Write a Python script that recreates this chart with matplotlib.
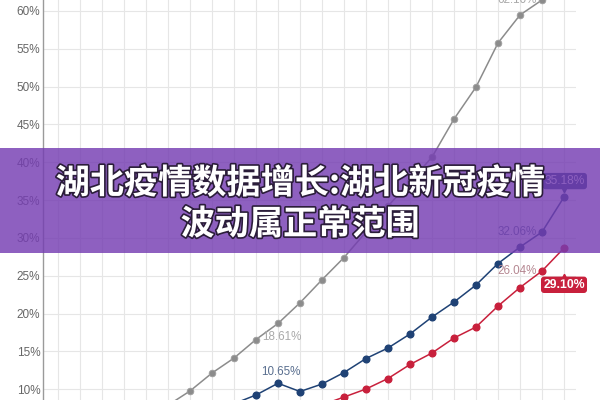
import matplotlib
matplotlib.use("Agg")
import matplotlib.pyplot as plt
import matplotlib.patheffects as pe
from matplotlib.patches import Rectangle
from matplotlib.transforms import offset_copy
from matplotlib.ticker import FuncFormatter

# ---- data ----
n_categories = 24
gray_start = 5
gray_values = [7.9, 9.78, 12.15, 14.13, 16.58, 18.7, 21.43, 24.47, 27.41, 30.78,
               34.21, 37.38, 40.68, 45.70, 49.93, 55.75, 59.45, 61.43]
blue_start = 8
blue_values = [8.1, 9.25, 10.8, 9.71, 10.70, 12.22, 14.07, 15.46, 17.31, 19.55,
               21.53, 23.78, 26.62, 28.80, 30.78, 35.40]
red_start = 12
red_values = [7.94, 8.98, 10.04, 11.43, 13.28, 14.80, 16.78, 18.23, 21.0, 23.45,
              25.63, 28.67]
y_ticks = [10, 15, 20, 25, 30, 35, 40, 45, 50, 55, 60]

title_line1 = "湖北疫情数据增长:湖北新冠疫情"
title_line2 = "波动属正常范围"

gray_x = list(range(gray_start, gray_start + len(gray_values)))
blue_x = list(range(blue_start, blue_start + len(blue_values)))
red_x = list(range(red_start, red_start + len(red_values)))

GRAY = "#8c8c8c"
BLUE = "#1f4275"
RED = "#c8203c"

fig = plt.figure(figsize=(6, 4), dpi=100)
fig.patch.set_facecolor("white")
ax = fig.add_axes([43 / 600, 0, (576 - 43) / 600, 1])
ax.set_facecolor("white")

ax.set_xlim(-15 / 22, (576 - 58) / 22)
ax.set_ylim(8.59, 61.43)

ax.set_xticks(range(n_categories))
ax.set_yticks(y_ticks)
ax.grid(True, color="#e6e6e6", linewidth=0.8, zorder=0)
ax.set_axisbelow(True)
ax.tick_params(axis="x", length=0, labelbottom=False)
ax.tick_params(axis="y", length=0, pad=2, labelsize=8.5, labelcolor="#666666")
ax.yaxis.set_major_formatter(FuncFormatter(lambda v, p: f"{v:.0f}%"))
for lab in ax.get_yticklabels():
    lab.set_fontfamily("Liberation Sans")
for s in ["top", "right", "bottom"]:
    ax.spines[s].set_visible(False)
ax.spines["left"].set_color("#9a9a9a")
ax.spines["left"].set_linewidth(1.0)

ax.plot(gray_x, gray_values, color=GRAY, lw=1.1, marker="o", ms=4.8,
        mfc=GRAY, mec="#a0a0a0", mew=0.6, zorder=3)
ax.plot(blue_x, blue_values, color=BLUE, lw=1.1, marker="o", ms=4.8,
        mfc=BLUE, mec=BLUE, zorder=4)
ax.plot(red_x, red_values, color=RED, lw=1.1, marker="o", ms=4.8,
        mfc=RED, mec=RED, zorder=5)

lab_font = dict(fontfamily="Liberation Sans", fontsize=8.4)

def plain_label(x, y, text, dx, dy, color, ha="center"):
    ax.annotate(text, (x, y), xytext=(dx, dy), textcoords="offset points",
                ha=ha, va="center", color=color, zorder=6, **lab_font)

plain_label(gray_x[-1], gray_values[-1], "62.10%", -4, 0, "#a8a8a8", ha="right")
plain_label(gray_x[5], gray_values[5], "18.61%", 3, -9.5, "#aaaaaa")
plain_label(blue_x[2], blue_values[2], "10.65%", 2, 8, "#5a6f8f")
plain_label(blue_x[-2], blue_values[-2], "32.06%", -4, 0, "#5a6f8f", ha="right")
plain_label(red_x[-2], red_values[-2], "26.04%", -4, 0, "#b58791", ha="right")

# boxed end labels
ax.annotate("35.18%", (blue_x[-1], blue_values[-1]), xytext=(0.5, 11.5),
            textcoords="offset points", ha="center", va="center", color="white",
            fontfamily="Liberation Sans", fontsize=8.6, zorder=7,
            bbox=dict(boxstyle="round,pad=0.18,rounding_size=0.25", fc=BLUE, ec="none"))
ax.plot([blue_x[-1]], [blue_values[-1]], marker="v", ms=3.2, color=BLUE,
        transform=offset_copy(ax.transData, fig=fig, x=0, y=5.0, units="points"),
        zorder=7, clip_on=False)

ax.annotate("29.10%", (red_x[-1], red_values[-1]), xytext=(0, -26.5),
            textcoords="offset points", ha="center", va="center", color="white",
            fontfamily="Liberation Sans", fontsize=8.8, fontweight="bold", zorder=7,
            bbox=dict(boxstyle="round,pad=0.18,rounding_size=0.25", fc=RED, ec="none"))
ax.plot([red_x[-1]], [red_values[-1]], marker="^", ms=3.2, color=RED,
        transform=offset_copy(ax.transData, fig=fig, x=0, y=-20, units="points"),
        zorder=7, clip_on=False)

# purple banner overlay
banner = Rectangle((0, (400 - 253) / 400), 1, (253 - 148) / 400,
                   transform=fig.transFigure, facecolor="#753db2", alpha=0.82,
                   edgecolor="none", zorder=10)
fig.patches.append(banner)

stroke = [pe.withStroke(linewidth=2.4, foreground="#2b1d3a")]
fig.text(0.5, (400 - 183) / 400, title_line1, ha="center", va="center",
         color="white", fontsize=24.6, fontweight="black",
         family=["Noto Sans CJK SC", "DejaVu Sans"], path_effects=stroke, zorder=11)
fig.text(0.5, (400 - 224) / 400, title_line2, ha="center", va="center",
         color="white", fontsize=24.6, fontweight="black",
         family=["Noto Sans CJK SC", "DejaVu Sans"], path_effects=stroke, zorder=11)

fig.savefig("out.png", dpi=100)
